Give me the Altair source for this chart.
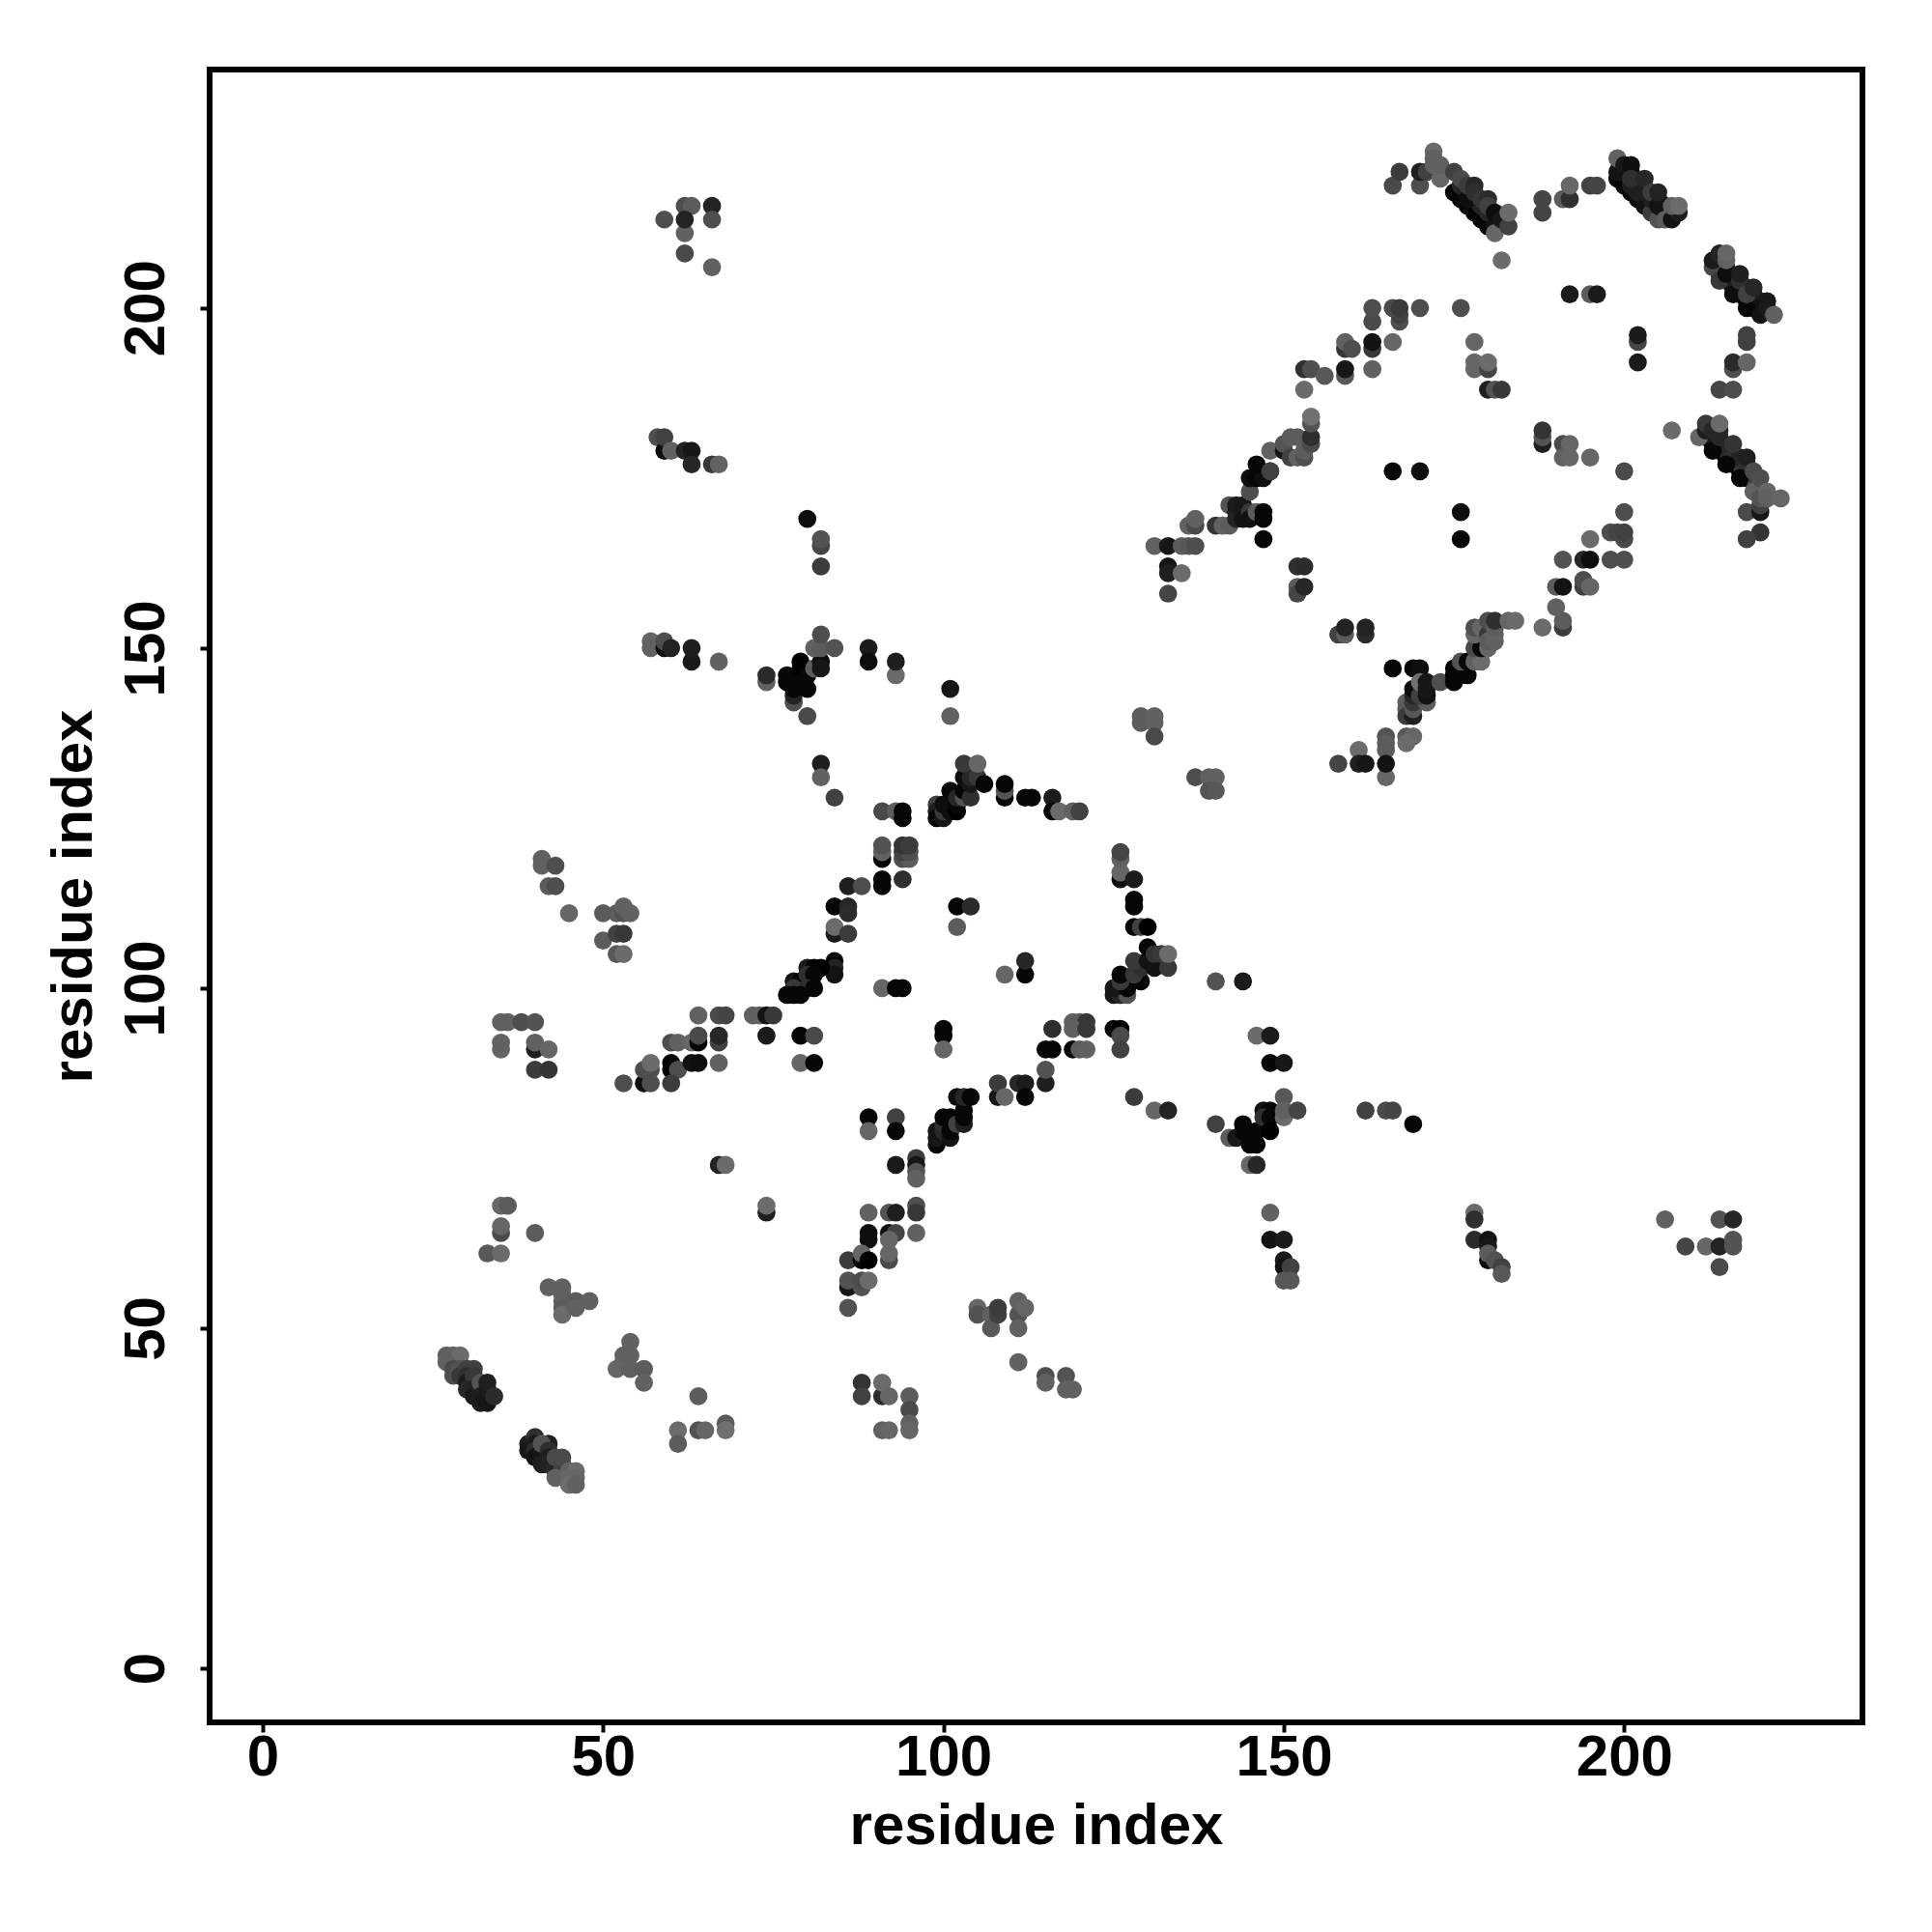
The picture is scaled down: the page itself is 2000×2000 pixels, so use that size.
import altair as alt
import pandas as pd

# (residue i, residue j, darkness score: 0 black .. 120 mid grey)
low_left_helix_a = [(27,46,105),(28,46,105),(29,46,115),(27,45,105),(28,44,80),(28,43,85),(29,44,90),(29,43,60),(30,44,70),(31,44,70),(30,43,50),(30,42,25),(31,42,40),(31,43,60),(30,41,40),(31,41,35),(31,40,25),(32,41,30),(32,42,90),(32,40,30),(32,39,25),(33,39,20),(33,40,20),(33,41,25),(33,42,30),(34,40,45)]
low_left_helix_b = [(39,33,30),(39,32,20),(40,34,50),(40,33,25),(40,32,45),(40,31,15),(41,32,25),(41,31,20),(41,30,30),(42,33,30),(41,33,90),(42,32,50),(42,31,30),(42,30,35),(43,29,50),(43,30,40),(43,31,80),(44,30,75),(44,29,70),(44,31,80),(43,28,105),(45,29,105),(46,29,115),(45,28,110),(46,28,110),(45,27,115),(46,27,105)]
low_left_misc = [(42,56,105),(44,56,105),(44,55,105),(44,54,105),(44,53,100),(44,52,115),(46,54,100),(46,53,105),(48,54,105),
 (54,48,105),(53,46,105),(54,46,105),(53,45,105),(52,44,110),(54,44,105),(56,44,100),(56,42,105),
 (64,40,100),(61,35,115),(61,33,100),(64,35,90),(65,35,110),(68,36,100),(68,35,120),
 (88,42,55),(88,40,70),(91,40,45),(91,42,115),(92,40,110),(91,35,105),(92,35,110),(95,40,100),(95,38,80),(95,36,105),(95,35,110),
 (105,53,110),(105,52,90),(107,52,105),(107,50,95),(108,52,70),(108,53,65),(111,52,90),(111,54,105),(112,53,110),(111,50,105),
 (111,45,105),(115,43,85),(115,42,105),(118,43,90),(118,41,105),(119,41,105),
 (35,68,110),(36,68,100),(35,64,80),(35,65,110),(40,64,100),(33,61,95),(35,61,115),
 (74,67,30),(74,68,115),(67,74,35),(68,74,115)]
mid_left = [(35,95,105),(36,95,105),(38,95,85),(40,95,90),(35,91,110),(35,92,105),(40,91,30),(40,92,105),(42,91,110),(40,88,65),(42,88,55),
 (41,119,105),(41,118,105),(43,118,85),(42,115,100),(43,115,85),(45,111,110),(50,111,100),(52,111,100),(53,111,90),(54,111,105),(53,112,105),
 (50,107,100),(52,108,70),(53,108,60),(52,105,95),(53,105,115),
 (53,86,85),(56,86,10),(57,86,85),(56,88,85),(57,88,85),(57,89,115),(60,89,5),(60,88,5),(61,88,85),(60,86,65),(63,89,15),(64,89,10),(67,89,105),
 (60,92,85),(61,92,105),(63,92,110),(64,92,0),(64,93,80),(67,92,70),(67,93,40),(64,96,105),(67,96,80),(68,96,75),(72,96,105),(73,96,105),(74,96,15),(75,96,60),(74,93,25),(79,93,5),(81,93,80),(79,89,110),(81,89,5)]
strand_80s = [(84,104,5),(84,103,35),(84,102,15),(80,103,25),(81,103,0),(82,103,0),(78,101,15),(79,101,5),(80,102,50),(81,102,5),(78,100,60),(80,100,50),(81,100,5),(77,99,5),(78,99,5),(79,99,5),
 (84,112,5),(86,112,40),(86,111,45),(84,108,25),(84,109,115),(86,108,65),(86,115,30),(88,115,85),
 (91,119,5),(91,120,105),(91,121,90),(91,116,5),(91,115,5),(94,119,85),(95,119,100),(94,120,70),(95,120,85),(94,121,55),(95,121,65),(94,116,50),
 (91,126,80),(93,126,100),(94,125,5),(94,126,5),(91,100,110),(93,100,5),(94,100,5)]
top_arc = [(99,127,70),(99,126,30),(99,125,5),(100,125,20),(100,126,60),(100,127,10),(101,126,10),(101,129,5),(102,126,0),(102,127,5),(102,128,40),(103,128,90),(103,129,5),(103,131,10),(104,128,50),(104,130,20),(104,131,40),(105,131,60),(106,130,5),(103,133,60),(105,133,110),
 (109,128,5),(109,129,90),(109,130,5),(112,128,5),(113,128,5),(116,128,25),(116,126,5),(117,126,115),(119,126,105),(120,126,70),
 (102,112,5),(104,112,45),(102,109,100),(109,102,110),(112,102,5),(112,104,40),(100,94,5),(100,93,5),(100,91,110)]
right_side = [(126,116,10),(126,117,110),(126,119,105),(126,120,75),(128,116,25),(128,113,5),(128,112,5),(128,109,5),(129,109,70),(130,109,0),
 (125,99,20),(126,99,40),(127,99,90),(125,100,20),(127,100,5),(126,101,60),(126,102,5),(129,101,5),(128,102,60),(129,103,50),(128,104,60),(130,104,15),(130,106,5),(131,103,15),(131,105,55),(132,105,60),(133,103,60),(133,105,115),
 (140,101,90),(144,101,25),(146,93,115),(148,93,25),(148,89,5),(150,89,20),
 (116,94,50),(115,91,5),(116,91,5),(119,91,5),(120,91,100),(121,91,105),(119,95,105),(120,95,100),(121,95,60),(119,94,105),(121,94,60),(125,94,5),(126,94,0),(126,93,80),(126,91,70)]
lower_arc = [(99,77,5),(99,78,20),(99,79,15),(100,79,40),(100,80,50),(100,81,5),(101,78,15),(101,79,5),(101,81,5),(102,80,70),(103,80,30),(103,81,5),(103,82,5),(102,84,10),(103,84,40),(104,84,5),
 (108,84,20),(108,86,65),(109,84,110),(111,86,40),(112,86,25),(112,84,5),(115,86,30),(115,88,90),
 (89,81,5),(89,79,110),(93,81,70),(93,79,5),(93,74,25),(96,75,65),(96,74,20),(96,73,90),(96,72,105),(92,67,90),(93,67,30),(96,68,85),(96,67,60),(96,64,105),
 (89,67,105),(89,64,10),(89,63,10),(92,64,10),(93,64,75),(92,63,110),(92,60,80),(92,61,110),(86,60,65),(88,60,5),(88,61,110),(89,60,0),(86,56,20),(86,57,90),(88,56,90),(88,57,85),(89,57,115),(86,53,90),
 (128,84,65),(131,82,110),(133,82,35)]
cluster_146 = [(140,80,70),(142,78,100),(143,78,20),(144,80,5),(144,79,5),(145,78,5),(145,77,5),(146,77,5),(146,79,5),(147,82,15),(148,82,5),(147,81,50),(148,81,5),(148,79,0),(150,84,95),(150,81,115),(150,82,105),(152,82,75),(145,74,110),(146,74,40),
 (148,67,105),(148,63,15),(150,63,25),(150,60,25),(150,59,15),(151,59,70),(150,57,95),(151,57,95),
 (162,82,70),(165,82,80),(166,82,75),(169,80,5),(178,67,115),(178,66,50),(178,63,45),(180,63,15),(180,62,20),(180,60,10),(180,61,100),(181,60,90),(182,59,70),(182,58,95),
 (206,66,105),(209,62,75),(212,62,110),(214,62,35),(216,62,90),(216,63,90),(214,66,90),(216,66,40),(214,59,80)]
upper_left = [(59,213,85),(62,215,85),(63,215,100),(66,215,35),(62,211,105),(62,213,35),(66,213,85),(62,208,80),(66,206,105),
 (58,181,85),(59,179,10),(59,181,70),(60,179,105),(62,179,35),(63,179,20),(63,177,40),(66,177,60),(67,177,105),
 (80,169,10),(82,165,75),(82,166,90),(82,162,65),
 (57,151,110),(57,150,105),(59,150,10),(59,151,85),(60,150,35),(63,148,25),(63,150,30),(67,148,105),
 (74,145,105),(74,146,45),(78,142,85),(78,143,35),(80,140,80),
 (77,146,5),(77,145,5),(78,144,5),(79,148,0),(79,147,0),(79,145,5),(80,146,5),(80,144,5),(81,147,100),(82,148,10),(82,147,20),(81,150,105),(82,150,100),(82,152,85),(84,150,90),
 (89,150,25),(89,148,10),(93,146,115),(93,148,30),(101,144,20),(101,140,105),(82,133,30),(82,131,105),(84,128,70)]
centre_links = [(129,140,100),(129,139,100),(131,140,105),(131,139,105),(131,137,80),(137,131,85),(139,131,105),(140,131,105),(139,129,90),(140,129,95),
 (158,133,75),(161,135,115),(161,133,30),(162,133,20),(165,137,90),(165,136,100),(165,135,100),(165,131,110),(165,133,15),(168,137,95),(169,137,110),(168,136,115)]
ring_low = [(166,147,5),(169,147,5),(170,147,10),(168,142,105),(168,141,100),(168,140,65),(169,140,30),(169,141,95),(169,142,60),(169,143,40),(169,144,10),(171,142,100),(170,143,70),(170,145,120),(171,143,15),(171,144,20),(171,145,20),
 (173,145,85),(175,145,5),(175,146,5),(175,147,5),(176,146,5),(177,146,5),(176,148,90),(177,148,5),(178,148,105),(179,148,115),
 (178,150,80),(179,150,5),(180,150,110),(178,152,110),(178,153,85),(179,153,110),(180,152,60),(180,151,100),(180,154,85),(181,151,105),(181,152,105),(181,153,100),(181,154,50),(183,154,110),(184,154,115),
 (188,153,115),(190,156,105),(191,153,65),(191,154,100),(158,152,70),(159,152,100),(159,153,35),(162,152,45),(162,153,35),(152,159,100),(152,158,75),(153,159,40),(152,162,50),(153,162,45)]
ring_right = [(190,159,100),(191,159,15),(194,159,70),(194,160,85),(195,159,110),(191,163,90),(194,163,40),(195,163,10),(198,163,85),(200,163,85),(195,166,115),(198,167,85),(199,167,75),(200,166,80),(200,167,70),(200,170,85),(200,176,80),
 (188,180,30),(188,181,90),(188,182,55),(191,180,80),(192,180,110),(191,178,105),(192,178,110),(195,178,110),(207,182,115)]
ring_up_left = [(131,165,105),(133,165,20),(135,165,100),(136,165,95),(137,165,85),(133,162,20),(133,161,30),(135,161,115),(133,158,75),
 (136,168,105),(137,168,80),(137,169,105),(140,168,55),(141,168,105),(142,168,100),(142,171,90),(143,170,30),(143,169,35),(144,170,20),(143,171,25),(144,171,20),(144,169,15),(145,170,60),(145,169,15),(146,170,100),(147,170,5),(147,169,5),(147,166,5),(145,173,85),(145,175,10),(146,175,5),(147,175,10),(146,177,5),(148,176,5),(148,176,70),(148,179,105),(150,179,15),(150,180,90),(151,178,70),(151,181,100),(152,178,105),(152,181,100),(153,178,85),(153,179,100),(154,180,80),(154,181,50),(154,183,90),(154,184,120),
 (153,191,50),(154,191,85),(156,190,95),(153,188,115),
 (159,190,95),(159,191,20),(159,194,55),(159,195,105),(160,194,85),(163,191,105),(163,194,60),(163,195,15),(166,195,110),(163,198,80),(163,200,85),(167,198,85),(167,199,70),(166,200,80),(167,200,65),(170,200,85),(176,200,85)]
ring_up_right = [(178,195,110),(178,191,110),(178,192,110),(180,191,75),(180,192,115),(180,188,30),(181,188,90),(182,188,60),(192,202,25),(195,202,100),(196,202,25),(202,195,75),(202,196,25),(202,192,25),(166,176,5),(170,176,10),(176,170,10),(176,166,5)]
top_bands = [(166,218,80),(167,220,65),(170,218,85),(170,220,30),(171,220,70),(172,223,115),(172,222,105),(172,221,105),(173,219,110),(173,221,105),
 (175,217,5),(176,216,5),(177,215,5),(178,214,5),(179,213,5),(180,212,5),(176,218,40),(177,217,35),(178,216,40),(179,215,35),(180,214,40),(181,213,30),
 (177,216,10),(175,220,70),(176,219,80),(177,218,65),(178,218,40),(178,217,50),(179,216,55),(180,216,45),(180,215,70),(181,212,15),(181,211,110),(181,214,10),(182,213,20),(183,212,70),(183,214,115),(182,207,115),
 (188,216,75),(188,214,75),(191,216,100),(192,216,50),(192,218,110),(195,218,70),(196,218,75),
 (199,219,5),(200,218,5),(201,217,5),(202,216,10),(203,215,15),(204,214,65),(205,213,90),(200,220,30),(201,220,15),(201,218,30),(202,218,60),(202,217,30),(203,217,30),(204,216,30),(205,216,20),(206,214,20),(206,215,20),
 (199,220,15),(199,222,105),(200,221,20),(201,221,10),(201,219,50),(203,219,40),(204,217,65),(205,215,15),(205,217,35),(206,213,100),(207,213,15),(208,214,25),(207,215,105),(208,215,115)]
right_bands = [(214,205,20),(214,206,25),(215,204,10),(215,206,30),(216,203,15),(216,204,30),(217,202,10),(217,203,30),(218,201,5),(218,203,40),(219,200,10),(219,201,50),(219,202,30),(220,201,30),(220,200,15),
 (213,206,80),(213,207,25),(214,208,35),(214,204,60),(215,205,10),(215,207,105),(215,208,110),(216,202,10),(217,204,50),(217,205,30),(218,200,5),(218,202,70),(219,203,40),(220,199,15),(221,201,20),(221,200,25),(222,199,105),
 (218,195,70),(218,196,70),(216,191,85),(216,192,45),(218,192,110),(214,188,75),(216,188,85),
 (212,181,15),(213,180,5),(214,179,5),(215,178,5),(216,177,5),(217,176,5),(218,175,5),(213,181,25),(214,180,30),(215,179,40),(216,178,50),(217,177,60),(217,178,35),(218,176,60),(218,177,50),(219,175,70),
 (211,181,110),(212,182,30),(212,183,60),(213,179,5),(213,182,40),(214,181,40),(214,182,40),(214,183,115),(215,177,5),(216,180,55),(217,175,5),(218,178,30),(219,176,80),(219,173,105),(220,175,85),(218,170,80),(220,170,20),(220,171,70),(220,172,90),(221,173,110),(221,172,105),(223,172,110),(220,167,55),(218,166,70)]

regions = [low_left_helix_a, low_left_helix_b, low_left_misc, mid_left, strand_80s, top_arc, right_side, lower_arc, cluster_146,
           upper_left, centre_links, ring_low, ring_right, ring_up_left, ring_up_right, top_bands, right_bands]
rows = [r for reg in regions for r in reg]
df = pd.DataFrame(rows, columns=["i", "j", "score"])

tick_values = [0, 50, 100, 150, 200]
axis_font = "Liberation Sans"

def axis(angle, label_pad, title_pad):
    return alt.Axis(values=tick_values, grid=False, domain=False, title="residue index",
                    tickSize=10, tickWidth=4, tickColor="black",
                    labelFont=axis_font, labelFontSize=60, labelFontWeight="bold", labelColor="black",
                    labelAngle=angle, labelPadding=label_pad, labelFlush=False, labelOverlap=False,
                    titleFont=axis_font, titleFontSize=60, titleFontWeight="bold", titleColor="black",
                    titlePadding=title_pad)

chart = (
    alt.Chart(df)
    .mark_circle(size=350, opacity=1)
    .encode(
        x=alt.X("i:Q", scale=alt.Scale(domain=[-7.8, 235.0], nice=False, zero=False), axis=axis(0, -3, 12)),
        y=alt.Y("j:Q", scale=alt.Scale(domain=[-7.95, 235.05], nice=False, zero=False), axis=axis(270, 25, 14)),
        color=alt.Color("score:Q", scale=alt.Scale(domain=[0, 255], range=["#000000", "#ffffff"]), legend=None),
        order=alt.Order("idx:Q"),
    )
    .transform_window(idx="row_number()")
    .properties(width=1711, height=1711, background="white",
                autosize=alt.AutoSizeParams(type="none"),
                padding={"left": 209, "top": 64, "right": 50, "bottom": 190})
    .configure_view(stroke="black", strokeWidth=6, fill="white")
)
chart.save("out.html", embed_options={"renderer": "svg", "actions": False})
